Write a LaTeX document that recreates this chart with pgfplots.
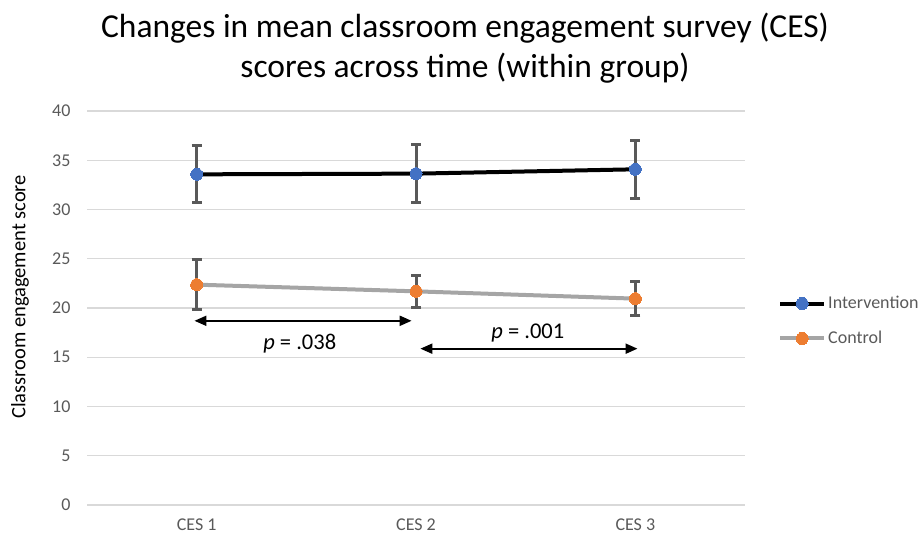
\documentclass[border=0pt]{standalone}
\usepackage{pgfplots}
\pgfplotsset{compat=1.18}
\usepackage{fontspec}
\setmainfont{Carlito}
\usetikzlibrary{arrows.meta}
\definecolor{blueM}{HTML}{4472C4}
\definecolor{orangeM}{HTML}{ED7D31}
\definecolor{grayL}{HTML}{A5A5A5}
\definecolor{errc}{HTML}{595959}
\definecolor{gridc}{HTML}{D9D9D9}
\definecolor{tickc}{HTML}{595959}
\pgfplotstableread{
x y ep em
0 33.57 2.88 2.88
1 33.64 2.94 2.94
2 34.08 2.97 2.97
}\intervention
\pgfplotstableread{
x y ep em
0 22.37 2.52 2.52
1 21.69 1.63 1.63
2 20.95 1.76 1.76
}\control
\begin{document}
\begin{tikzpicture}
\path[use as bounding box] (0,0) rectangle (922bp,539bp);
\begin{axis}[
 at={(87bp,34bp)}, anchor=south west,
 scale only axis, width=658bp, height=394bp,
 xmin=-0.5, xmax=2.5, ymin=0, ymax=40,
 xtick={0,1,2}, xticklabels={CES 1,CES 2,CES 3},
 ytick={0,5,...,40},
 ymajorgrids, grid style={gridc, line width=1.3bp},
 axis line style={draw=none},
 major tick length=0pt,
 tick label style={font=\fontsize{18bp}{22bp}\selectfont, text=tickc},
 /pgf/number format/assume math mode=true,
 yticklabel style={xshift=-13bp},
 xticklabel style={yshift=-10bp},
 ylabel={Classroom engagement score},
 ylabel style={font=\fontsize{20.5bp}{24bp}\selectfont, at={(axis description cs:-0.1018,0.528)}, anchor=center},
 legend style={at={(axis description cs:1.0502,0.467)}, anchor=west, draw=none, fill=none,
   font=\fontsize{18bp}{22bp}\selectfont, text=tickc, row sep=17bp, inner sep=0pt,
   nodes={inner xsep=2bp}},
 legend cell align=left,
 legend image code/.code={\draw[#1, mark repeat=2, mark phase=2] plot coordinates {(0bp,0bp) (22bp,0bp) (44bp,0bp)};},
 clip=false,
]
\addplot[black, line width=4bp, mark=*, mark size=6bp, mark options={fill=blueM, draw=blueM, line width=0pt},
  error bars/.cd, y dir=both, y explicit,
  error bar style={errc, line width=3bp},
  error mark options={errc, line width=3bp, mark size=5bp, rotate=90}]
  table[x=x, y=y, y error plus=ep, y error minus=em] {\intervention};
\addlegendentry{Intervention}
\addplot[grayL, line width=4bp, mark=*, mark size=6bp, mark options={fill=orangeM, draw=orangeM, line width=0pt},
  error bars/.cd, y dir=both, y explicit,
  error bar style={errc, line width=3bp},
  error mark options={errc, line width=3bp, mark size=5bp, rotate=90}]
  table[x=x, y=y, y error plus=ep, y error minus=em] {\control};
\addlegendentry{Control}
\draw[{Triangle[length=12bp,width=10bp]}-{Triangle[length=12bp,width=10bp]}, line width=2bp] (axis cs:-0.01,18.7) -- (axis cs:0.98,18.7);
\draw[{Triangle[length=12bp,width=10bp]}-{Triangle[length=12bp,width=10bp]}, line width=2bp] (axis cs:1.02,15.87) -- (axis cs:2.01,15.87);
\node[font=\fontsize{22.5bp}{26bp}\selectfont] at (axis cs:0.47,16.4) {\textit{p} = .038};
\node[font=\fontsize{22.5bp}{26bp}\selectfont] at (axis cs:1.51,17.45) {\textit{p} = .001};
\end{axis}
\node[font=\fontsize{33.5bp}{40bp}\selectfont, align=center] at (465bp,491bp) {Changes in mean classroom engagement survey (CES)\\scores across time (within group)};
\end{tikzpicture}
\end{document}
